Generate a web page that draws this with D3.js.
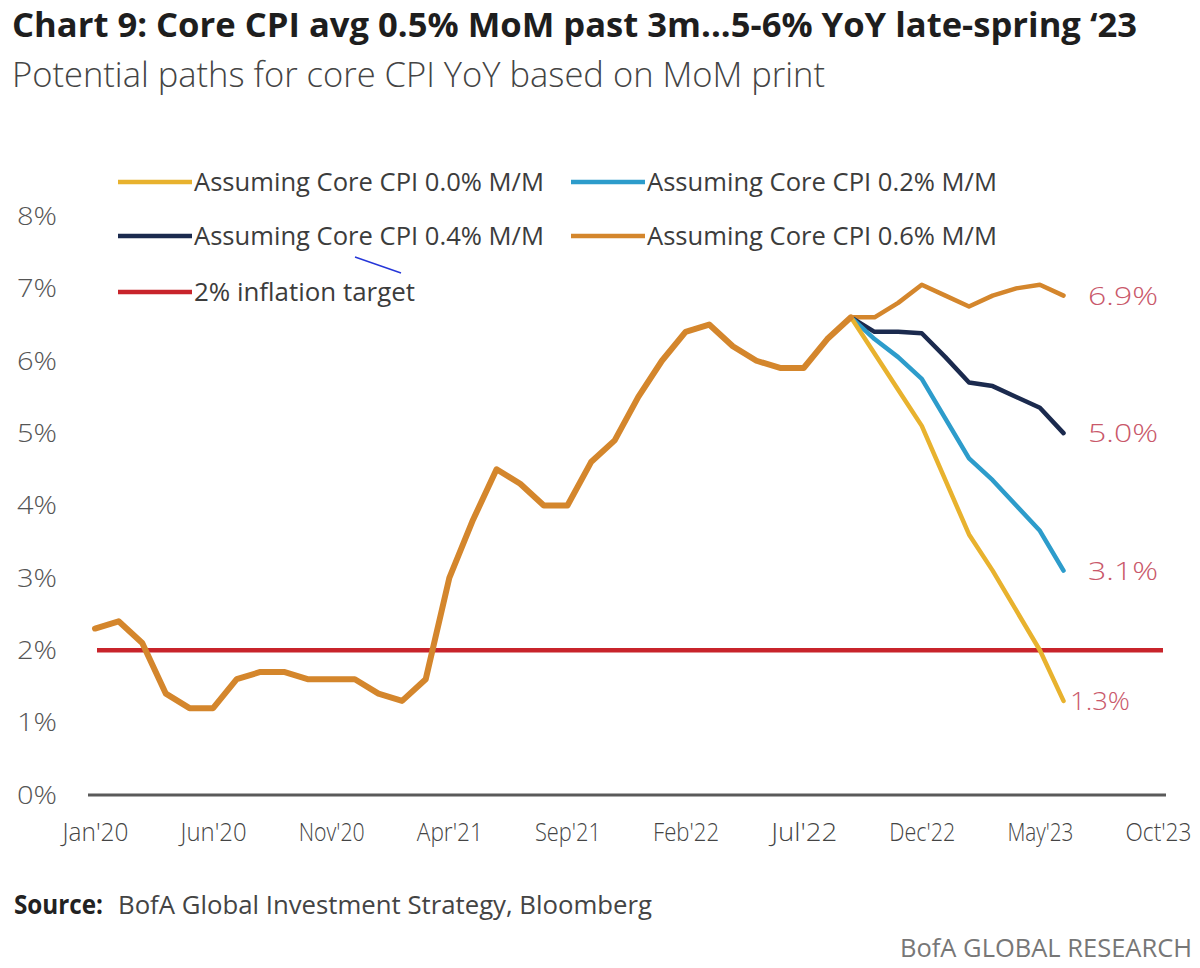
<!DOCTYPE html>
<html><head><meta charset="utf-8">
<script src="https://cdn.jsdelivr.net/npm/d3@7"></script>
<style>
html,body{margin:0;padding:0;background:#fff;}
svg{display:block;font-family:"Open Sans","Noto Sans",sans-serif;}
</style></head>
<body>
<svg id="chart" width="1200" height="968"></svg>
<script>
// ---------- DATA ----------
const tickLabels = ["Jan'20","Jun'20","Nov'20","Apr'21","Sep'21","Feb'22","Jul'22","Dec'22","May'23","Oct'23"];
const tickMonths = [0,5,10,15,20,25,30,35,40,45];
const yTicks = [0,1,2,3,4,5,6,7,8];
// Core CPI YoY, Jan 2020 .. Sep 2022 (month index 0..32)
const history = [2.3,2.4,2.1,1.4,1.2,1.2,1.6,1.7,1.7,1.6,1.6,1.6,
                 1.4,1.3,1.6,3.0,3.8,4.5,4.3,4.0,4.0,4.6,4.9,5.5,
                 6.0,6.4,6.5,6.2,6.0,5.9,5.9,6.3,6.6];
// Projections Sep 2022 .. Jun 2023 (month index 32..41)
const proj00 = [6.6,6.1,5.6,5.1,4.35,3.6,3.1,2.55,2.0,1.3];
const proj02 = [6.6,6.3,6.05,5.75,5.2,4.65,4.35,4.0,3.65,3.1];
const proj04 = [6.6,6.4,6.4,6.38,6.05,5.7,5.65,5.5,5.35,5.0];
const proj06 = [6.6,6.6,6.8,7.05,6.9,6.75,6.9,7.0,7.05,6.9];
const projStart = 32;
const target = 2;
const endLabels = ["1.3%","3.1%","5.0%","6.9%"];
const seriesNames = ["Assuming Core CPI 0.0% M/M","Assuming Core CPI 0.2% M/M",
                     "Assuming Core CPI 0.4% M/M","Assuming Core CPI 0.6% M/M","2% inflation target"];

// ---------- STYLE ----------
const C = {orange:"#d4862c", yellow:"#e8b22e", cyan:"#2d9ccb", navy:"#1b2a4e", red:"#c8242b", lbl:"#c9586a"};

const svg = d3.select("#chart");
const x = d3.scaleLinear().domain([0,45]).range([95,1158]);
const y = d3.scaleLinear().domain([0,8]).range([795,216]);

// Title
svg.append("text").attr("x",12).attr("y",37).attr("font-size",34).attr("font-weight",700)
  .attr("fill","#1e1e1e").attr("textLength",1125).attr("lengthAdjust","spacingAndGlyphs")
  .text("Chart 9: Core CPI avg 0.5% MoM past 3m...5-6% YoY late-spring \u201823");
svg.append("text").attr("x",12).attr("y",87).attr("font-size",34).attr("font-weight",300)
  .attr("fill","#444").attr("textLength",813).attr("lengthAdjust","spacingAndGlyphs")
  .text("Potential paths for core CPI YoY based on MoM print");

// Y axis
const yAxis = svg.append("g").attr("transform","translate(60,0)")
  .call(d3.axisLeft(y).tickValues(yTicks).tickSize(0).tickFormat(d=>d+"%"));
yAxis.select(".domain").remove();
yAxis.selectAll("text").attr("font-size",26).attr("fill","#555").attr("dx",0)
  .attr("font-family","'Open Sans',sans-serif").attr("font-weight",300)
  .attr("textLength",40).attr("lengthAdjust","spacingAndGlyphs");

// X axis
const xAxis = svg.append("g").attr("transform","translate(0,795)")
  .call(d3.axisBottom(x).tickValues(tickMonths).tickSize(0).tickFormat((d,i)=>tickLabels[i]));
xAxis.select(".domain").attr("d","M88,0H1166").attr("stroke","#5a5a5a").attr("stroke-width",3);
xAxis.selectAll("text").attr("font-size",25).attr("fill","#444").attr("y",0).attr("dy","1.85em")
  .attr("font-family","'Open Sans',sans-serif").attr("font-weight",300)
  .attr("textLength",66).attr("lengthAdjust","spacingAndGlyphs");

// Target line
svg.append("line").attr("x1",x(0)+2).attr("x2",1163).attr("y1",y(target)).attr("y2",y(target))
  .attr("stroke",C.red).attr("stroke-width",4.5);

const line = d3.line().x(d=>x(d[0])).y(d=>y(d[1]));
const toPts = (arr,start)=>arr.map((v,i)=>[start+i,v]);

// Projections
const projs = [[proj06,C.orange],[proj04,C.navy],[proj02,C.cyan],[proj00,C.yellow]];
projs.forEach(([arr,col])=>{
  svg.append("path").datum(toPts(arr,projStart)).attr("d",line).attr("fill","none")
    .attr("stroke",col).attr("stroke-width",4.5).attr("stroke-linejoin","round").attr("stroke-linecap","round");
});
// History
svg.append("path").datum(toPts(history,0)).attr("d",line).attr("fill","none")
  .attr("stroke",C.orange).attr("stroke-width",6).attr("stroke-linejoin","round").attr("stroke-linecap","round");

// End labels
const ends = [[proj00,endLabels[0],1070],[proj02,endLabels[1],1088],[proj04,endLabels[2],1088],[proj06,endLabels[3],1088]];
ends.forEach(([arr,lab,lx])=>{
  svg.append("text").attr("x",lx).attr("y",y(arr[arr.length-1])).attr("dy","0.36em")
    .attr("font-size",26).attr("font-weight",300).attr("fill",C.lbl)
    .attr("textLength",lab==="1.3%"?60:70).attr("lengthAdjust","spacingAndGlyphs").text(lab);
});

// Legend
const legend = [
  {name:seriesNames[0],col:C.yellow,x:118,y:182},
  {name:seriesNames[1],col:C.cyan,x:571,y:182},
  {name:seriesNames[2],col:C.navy,x:118,y:236},
  {name:seriesNames[3],col:C.orange,x:571,y:236},
  {name:seriesNames[4],col:C.red,x:118,y:292}
];
legend.forEach(l=>{
  svg.append("line").attr("x1",l.x).attr("x2",l.x+74).attr("y1",l.y).attr("y2",l.y)
    .attr("stroke",l.col).attr("stroke-width",4.5);
  svg.append("text").attr("x",l.x+76).attr("y",l.y).attr("dy","0.36em").attr("font-size",26)
    .attr("font-weight",400).attr("fill","#3c3c3c")
    .attr("textLength",l.name.length>20?350:221).attr("lengthAdjust","spacingAndGlyphs").text(l.name);
});
// small stray annotation stroke present in the reference
svg.append("line").attr("x1",355).attr("y1",257).attr("x2",401).attr("y2",273)
  .attr("stroke","#2536d8").attr("stroke-width",1.5);

// Footer
svg.append("text").attr("x",14).attr("y",914).attr("font-size",26).attr("font-weight",700)
  .attr("fill","#222").attr("textLength",89).attr("lengthAdjust","spacingAndGlyphs").text("Source:");
svg.append("text").attr("x",118).attr("y",914).attr("font-size",26).attr("font-weight",400)
  .attr("fill","#444").attr("textLength",534).attr("lengthAdjust","spacingAndGlyphs")
  .text("BofA Global Investment Strategy, Bloomberg");
svg.append("text").attr("x",1192).attr("y",957).attr("text-anchor","end").attr("font-size",25)
  .attr("font-weight",400).attr("fill","#777").attr("textLength",292).attr("lengthAdjust","spacingAndGlyphs")
  .text("BofA GLOBAL RESEARCH");
</script>
</body></html>
